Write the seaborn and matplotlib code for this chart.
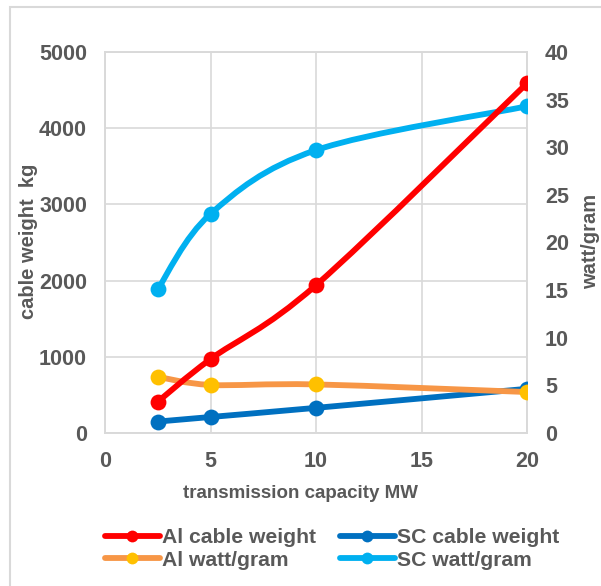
import numpy as np
import pandas as pd
import seaborn as sns
import matplotlib.pyplot as plt
from matplotlib.path import Path
from matplotlib.patches import PathPatch, Rectangle
from matplotlib.lines import Line2D

# data
capacity = [2.5, 5, 10, 20]
al_weight = [410, 970, 1940, 4590]
sc_weight = [150, 210, 330, 580]
al_wpg = [5.9, 5.05, 5.1, 4.3]
sc_wpg = [15.1, 23.0, 29.7, 34.3]

series = [
    # name, values, axis, line colour, marker colour, zorder
    ('SC watt/gram', sc_wpg, 'right', '#00B0F0', '#00B0F0', 3),
    ('SC cable weight', sc_weight, 'left', '#0070C0', '#0070C0', 4),
    ('Al watt/gram', al_wpg, 'right', '#F79646', '#FFC000', 5),
    ('Al cable weight', al_weight, 'left', '#FF0000', '#FF0000', 6),
]

sns.set_theme(style='white')
plt.rcParams['font.family'] = ['Liberation Sans', 'DejaVu Sans']
plt.rcParams['font.weight'] = 'bold'
grey = '#595959'
grid = '#D9D9D9'


def smooth_path(xs, ys):
    # excel style smoothed line: catmull-rom as cubic bezier segments
    pts = np.column_stack([xs, ys]).astype(float)
    verts = [pts[0]]
    codes = [Path.MOVETO]
    n = len(pts)
    for i in range(n - 1):
        p0 = pts[i - 1] if i > 0 else pts[i]
        p1 = pts[i]
        p2 = pts[i + 1]
        p3 = pts[i + 2] if i + 2 < n else pts[i + 1]
        verts += [p1 + (p2 - p0) / 6, p2 - (p3 - p1) / 6, p2]
        codes += [Path.CURVE4] * 3
    return Path(verts, codes)


fig = plt.figure(figsize=(6.01, 5.86), dpi=100)
ax = fig.add_axes([105 / 601, 1 - 433 / 586, 422 / 601, 381 / 586])
ax2 = ax.twinx()

ax.set_xlim(0, 20)
ax.set_ylim(0, 5000)
ax2.set_ylim(0, 40)
ax.set_xticks(range(0, 21, 5))
ax.set_yticks(range(0, 5001, 1000))
ax2.set_yticks(range(0, 41, 5))
ax.grid(True, color=grid, lw=1.2)
ax2.grid(False)

for a in (ax, ax2):
    for s in a.spines.values():
        s.set_color(grid)
        s.set_linewidth(1.2)
    a.tick_params(length=0, labelsize=15.5, labelcolor=grey)
    for lab in a.get_xticklabels() + a.get_yticklabels():
        lab.set_fontweight('bold')
ax.tick_params(axis='y', pad=13)
ax2.tick_params(axis='y', pad=13)
ax.tick_params(axis='x', pad=13)

handles = {}
for name, vals, side, lc, mc, z in series:
    tr = ax.transData if side == 'left' else ax2.transData
    df = pd.DataFrame({'x': capacity, 'y': vals})
    patch = PathPatch(smooth_path(df['x'], df['y']), transform=tr,
                      facecolor='none', edgecolor=lc, lw=4.2, zorder=z,
                      capstyle='round', joinstyle='round')
    ax2.add_patch(patch)
    sns.scatterplot(data=df, x='x', y='y', ax=ax2, color=mc, s=130,
                    linewidth=0, transform=tr, zorder=z + 0.5, legend=False)
    handles[name] = Line2D([], [], color=lc, lw=4.2, marker='o',
                           markersize=8.5, markerfacecolor=mc,
                           markeredgewidth=0)

ax2.set_ylim(0, 40)
ax2.set_xlabel('')

ax.set_xlabel('transmission capacity MW', fontsize=13.5, color=grey,
              fontweight='bold', va='center')
ax.xaxis.set_label_coords((300.5 - 105) / 422, (433 - 493) / 381)
ax.set_ylabel('cable weight  kg', fontsize=14.5, color=grey,
              fontweight='bold', va='center')
ax.yaxis.set_label_coords((29 - 105) / 422, (433 - 241) / 381)
ax2.set_ylabel('watt/gram', fontsize=14.5, color=grey, fontweight='bold',
               rotation=90, va='center')
ax2.yaxis.set_label_coords((591 - 105) / 422, (433 - 241) / 381)

order = ['Al cable weight', 'Al watt/gram', 'SC cable weight', 'SC watt/gram']
fig.legend([handles[k] for k in order], order, ncol=2, frameon=False,
           loc='center', bbox_to_anchor=(332 / 601, 1 - 549 / 586),
           labelcolor=grey, handlelength=2.6, handletextpad=0.1,
           columnspacing=1.15, labelspacing=0.15,
           prop={'weight': 'bold', 'size': 15.2})

fig.patches.append(Rectangle((10 / 601, -0.05), 1.0, 1.05 - 7 / 586,
                             transform=fig.transFigure, fill=False,
                             edgecolor=grid, lw=1.5))

fig.savefig('out.png', dpi=100)
